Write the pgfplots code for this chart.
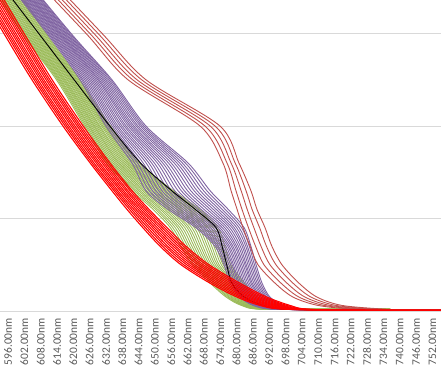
\documentclass[border=0pt]{standalone}
\usepackage{fontspec}
\setmainfont{Carlito}
\usepackage{pgfplots}
\usepackage{pgfplotstable}
\pgfplotsset{compat=1.18}
\definecolor{cpurple}{HTML}{8064A2}
\definecolor{cgreen}{HTML}{9BBB59}
\definecolor{cdred}{HTML}{C0504D}
\definecolor{cred}{HTML}{FF0000}
\definecolor{gridgray}{HTML}{D9D9D9}
\definecolor{labgray}{HTML}{595959}

\pgfplotstableread{
y p1 p2 p3 p4 p5 p6 p7 p8 p9 p10 p11
3.8 589.4 590.1 590.9 591.6 592.3 593.1 593.8 594.5 595.3 596.0 596.7
3.0 610.3 611.2 612.1 613.0 613.9 614.8 615.6 616.5 617.4 618.3 619.2
2.5 622.5 623.6 624.8 626.0 627.2 628.4 629.5 630.7 631.9 633.1 634.2
2.0 632.0 633.5 635.0 636.4 637.9 639.4 640.9 642.3 643.8 645.3 646.7
1.6 641.6 643.6 645.7 647.8 649.8 651.9 653.9 656.0 658.1 660.1 662.2
1.3 646.7 649.1 651.4 653.8 656.1 658.5 660.8 663.2 665.5 667.9 670.3
1.1 654.8 657.0 659.2 661.4 663.6 665.8 668.0 670.3 672.5 674.7 676.9
0.9 665.1 666.9 668.6 670.4 672.2 673.9 675.7 677.5 679.2 681.0 682.8
0.7 672.1 673.4 674.7 676.1 677.4 678.7 680.0 681.4 682.7 684.0 685.3
0.5 675.4 676.6 677.8 678.9 680.1 681.3 682.5 683.6 684.8 686.0 687.2
0.3 677.6 678.8 680.0 681.1 682.3 683.5 684.7 685.8 687.0 688.2 689.4
0.15 681.3 682.4 683.5 684.6 685.7 686.8 687.9 689.0 690.1 691.2 692.3
0.06 686.1 687.2 688.3 689.4 690.5 691.6 692.7 693.8 694.9 696.0 697.1
0.02 693.4 694.3 695.2 696.1 697.0 697.8 698.7 699.6 700.5 701.4 702.2
0.012 720 720 720 720 720 720 720 720 720 720 720
0.008 760 760 760 760 760 760 760 760 760 760 760
}\purpletab

\pgfplotstableread{
y q1 q2 q3 q4 q5 q6 q7 q8 q9 q10
3.8 589.8 590.5 591.3 592.0 592.7 593.5 594.2 594.9 595.7 596.4
3.0 610.8 611.7 612.6 613.5 614.4 615.2 616.1 617.0 617.9 618.8
2.5 623.1 624.2 625.4 626.6 627.8 629.0 630.1 631.3 632.5 633.7
2.0 632.8 634.3 635.7 637.2 638.7 640.2 641.6 643.1 644.6 646.0
1.6 642.6 644.7 646.8 648.8 650.9 652.9 655.0 657.1 659.1 661.2
1.3 647.9 650.3 652.6 655.0 657.3 659.7 662.0 664.4 666.7 669.1
1.1 655.9 658.1 660.3 662.5 664.7 666.9 669.2 671.4 673.6 675.8
0.9 666.0 667.8 669.5 671.3 673.1 674.8 676.6 678.4 680.1 681.9
0.7 672.8 674.1 675.4 676.8 678.1 679.4 680.7 682.1 683.4 684.7
0.5 676.0 677.2 678.4 679.5 680.7 681.9 683.1 684.2 685.4 686.6
0.3 678.2 679.4 680.6 681.7 682.9 684.1 685.3 686.4 687.6 688.8
0.15 681.9 683.0 684.1 685.2 686.3 687.4 688.5 689.6 690.7 691.8
0.06 686.7 687.8 688.9 690.0 691.1 692.2 693.3 694.4 695.5 696.6
0.02 693.9 694.8 695.7 696.6 697.4 698.3 699.2 700.1 701.0 701.8
0.012 720 720 720 720 720 720 720 720 720 720
0.008 760 760 760 760 760 760 760 760 760 760
}\purpletabb

\pgfplotstableread{
y g1 g2 g3 g4 g5 g6 g7 g8 g9 g10 g11
3.8 583.9 584.8 585.6 586.5 587.4 588.3 589.2 590.0 590.9 591.8 592.7
3.0 601.2 602.0 602.9 603.8 604.7 605.6 606.4 607.3 608.2 609.1 610.0
2.5 613.8 614.7 615.5 616.4 617.2 618.1 619.0 619.8 620.7 621.5 622.4
2.0 624.1 625.1 626.0 627.0 627.9 628.9 629.8 630.9 631.8 632.8 633.7
1.6 632.3 633.4 634.6 635.8 636.9 638.1 639.3 640.4 641.6 642.8 644.0
1.3 641.7 643.2 644.7 646.2 647.8 649.3 650.8 652.3 653.8 655.3 656.8
1.1 649.3 651.0 652.7 654.4 656.1 657.9 659.6 661.3 663.0 664.7 666.4
0.9 655.7 657.5 659.2 661.0 662.7 664.5 666.2 668.0 669.7 671.5 673.2
0.7 659.6 661.2 662.8 664.4 666.0 667.6 669.3 670.9 672.5 674.1 675.7
0.5 663.8 665.2 666.6 668.0 669.4 670.8 672.2 673.6 675.1 676.5 677.9
0.3 670.4 671.7 672.9 674.2 675.4 676.7 678.0 679.3 680.5 681.8 683.0
0.15 676.2 677.3 678.4 679.6 680.7 681.8 682.9 684.1 685.2 686.3 687.4
0.06 681.8 682.7 683.6 684.5 685.3 686.3 687.1 688.0 688.9 689.8 690.6
0.02 688.9 689.6 690.3 691.0 691.7 692.4 693.0 693.8 694.4 695.1 695.8
0.018 720 720 720 720 720 720 720 720 720 720 720
0.015 760 760 760 760 760 760 760 760 760 760 760
}\greentab

\pgfplotstableread{
y h1 h2 h3 h4 h5 h6 h7 h8 h9 h10
3.8 584.4 585.2 586.1 587.0 587.9 588.8 589.6 590.5 591.4 592.3
3.0 601.6 602.5 603.4 604.3 605.2 606.0 606.9 607.8 608.7 609.6
2.5 614.3 615.1 616.0 616.8 617.7 618.6 619.4 620.3 621.1 622.0
2.0 624.6 625.6 626.5 627.5 628.4 629.4 630.4 631.4 632.3 633.3
1.6 632.9 634.0 635.2 636.4 637.5 638.7 639.9 641.0 642.2 643.4
1.3 642.5 644.0 645.5 647.0 648.6 650.1 651.6 653.1 654.6 656.1
1.1 650.2 651.9 653.6 655.3 657.0 658.8 660.5 662.2 663.9 665.6
0.9 656.6 658.4 660.1 661.9 663.6 665.4 667.1 668.9 670.6 672.4
0.7 660.4 662.0 663.6 665.2 666.8 668.5 670.1 671.7 673.3 674.9
0.5 664.5 665.9 667.3 668.7 670.1 671.5 672.9 674.4 675.8 677.2
0.3 671.1 672.3 673.6 674.8 676.1 677.4 678.7 679.9 681.2 682.4
0.15 676.8 677.9 679.0 680.2 681.3 682.4 683.5 684.7 685.8 686.9
0.06 682.3 683.2 684.1 684.9 685.8 686.7 687.6 688.5 689.4 690.2
0.02 689.3 690.0 690.7 691.4 692.1 692.7 693.4 694.1 694.8 695.5
0.018 720 720 720 720 720 720 720 720 720 720
0.015 760 760 760 760 760 760 760 760 760 760
}\greentabb

\pgfplotstableread{
y r1 r2 r3 r4 r5 r6 r7 r8 r9 r10 r11
3.8 578.4 579.1 579.8 580.6 581.3 582.0 582.8 583.5 584.2 585.0 585.7
3.0 594.5 595.3 596.0 596.7 597.5 598.2 598.9 599.7 600.4 601.1 601.9
2.5 604.8 605.6 606.3 607.0 607.8 608.5 609.2 610.0 610.7 611.4 612.2
2.0 616.2 617.0 617.7 618.4 619.2 619.9 620.6 621.4 622.1 622.8 623.6
1.6 626.2 626.9 627.6 628.4 629.1 629.8 630.6 631.3 632.0 632.8 633.5
1.3 634.2 635.0 635.7 636.4 637.2 637.9 638.6 639.4 640.1 640.9 641.6
1.1 639.7 640.6 641.4 642.2 643.0 643.8 644.6 645.4 646.2 647.0 647.8
0.9 645.6 646.5 647.4 648.3 649.2 650.0 650.9 651.8 652.7 653.6 654.5
0.7 651.9 652.8 653.8 654.7 655.7 656.7 657.6 658.6 659.5 660.5 661.4
0.5 659.6 660.6 661.7 662.7 663.7 664.7 665.8 666.8 667.8 668.9 669.9
0.3 670.3 671.4 672.5 673.6 674.7 675.8 676.9 678.0 679.1 680.2 681.3
0.15 680.2 681.3 682.4 683.5 684.6 685.7 686.8 687.9 689.0 690.1 691.2
0.06 688.6 689.7 690.8 692.0 693.1 694.2 695.3 696.4 697.5 698.6 699.7
0.02 697.1 698.0 698.9 699.7 700.6 701.5 702.4 703.3 704.2 705.0 705.9
0.008 725 725 725 725 725 725 725 725 725 725 725
0.006 760 760 760 760 760 760 760 760 760 760 760
}\redtab

\pgfplotstableread{
y d1 d2 d3 d4 d5
3.8 598.9 600.4 601.9 603.4 604.8
3.0 624.7 626.1 627.6 629.1 630.6
2.5 640.1 641.8 643.4 645.1 646.7
2.0 666.6 668.4 670.3 672.1 673.9
1.6 675.0 676.5 678.0 679.5 680.9
1.3 678.0 679.8 681.7 683.5 685.3
1.1 680.2 682.0 683.9 685.7 687.5
0.9 682.4 684.4 686.4 688.5 690.5
0.7 685.0 687.0 689.0 691.0 693.0
0.5 687.9 690.1 692.3 694.5 696.7
0.3 694.2 696.4 698.6 700.8 703.0
0.15 700.8 703.0 705.2 707.4 709.6
0.06 710.0 712.2 714.4 716.6 718.8
0.02 723.6 726.3 729.1 731.8 734.6
0.012 745 745 745 745 745
0.01 760 760 760 760 760
}\dredtab

\pgfplotstableread{
y k
3.8 586.4
3.0 607.3
2.5 620.3
2.0 633.4
1.6 644.7
1.3 656.2
1.1 664.8
0.9 672.5
0.7 674.7
0.5 676.4
0.3 678.3
0.15 682.9
0.06 689.7
0.02 697.8
0.012 720
0.008 760
}\blacktab

\begin{document}
\begin{tikzpicture}
\begin{axis}[
  at={(0bp,62bp)}, anchor=south west,
  scale only axis, width=441bp, height=311bp,
  xmin=593.06, xmax=755.17, ymin=0, ymax=3.362,
  axis line style={draw=none},
  xtick={596,602,...,752},
  xticklabels={596.00nm,602.00nm,608.00nm,614.00nm,620.00nm,626.00nm,632.00nm,638.00nm,644.00nm,650.00nm,656.00nm,662.00nm,668.00nm,674.00nm,680.00nm,686.00nm,692.00nm,698.00nm,704.00nm,710.00nm,716.00nm,722.00nm,728.00nm,734.00nm,740.00nm,746.00nm,752.00nm},
  xticklabel style={rotate=90, anchor=east, font=\fontsize{11.5}{12}\selectfont, text=labgray, inner sep=0pt},
  xticklabel shift=7bp,
  major tick length=0pt,
  ytick={0,1,2,3}, yticklabels={},
  ymajorgrids, grid style={gridgray, line width=0.8pt},
  clip=true,
  every axis plot/.append style={smooth, tension=0.5, no markers},
]
\pgfplotsinvokeforeach{1,...,11}{\addplot[cgreen, line width=0.9pt] table[x=g#1, y=y] {\greentab};}
\pgfplotsinvokeforeach{1,...,10}{\addplot[cgreen, line width=0.9pt] table[x=h#1, y=y] {\greentabb};}
\pgfplotsinvokeforeach{1,...,11}{\addplot[cpurple, line width=0.9pt] table[x=p#1, y=y] {\purpletab};}
\pgfplotsinvokeforeach{1,...,10}{\addplot[cpurple, line width=0.9pt] table[x=q#1, y=y] {\purpletabb};}
\addplot[black, line width=0.9pt] table[x=k, y=y] {\blacktab};
\pgfplotsinvokeforeach{1,...,5}{\addplot[cdred, line width=0.9pt] table[x=d#1, y=y] {\dredtab};}
\pgfplotsinvokeforeach{1,...,11}{\addplot[cred, line width=1.1pt] table[x=r#1, y=y] {\redtab};}
\end{axis}
\pgfresetboundingbox
\useasboundingbox (0,0) rectangle (441bp,373bp);
\end{tikzpicture}
\end{document}
